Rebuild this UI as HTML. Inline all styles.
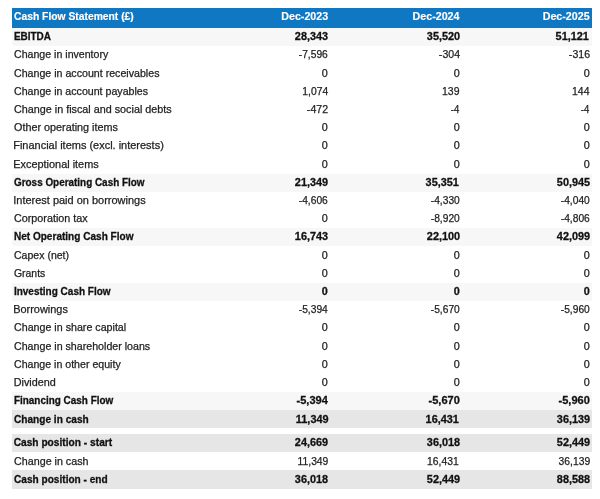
<!DOCTYPE html>
<html><head><meta charset="utf-8"><title>Cash Flow Statement</title>
<style>
html,body{margin:0;padding:0;background:#fff;}
body{width:600px;height:499px;position:relative;overflow:hidden;font-family:"Liberation Sans",sans-serif;font-size:10.5px;color:#111111;}
.r{position:absolute;left:12px;width:580px;height:18.2px;line-height:18.2px;white-space:nowrap;}
.h{position:absolute;left:12px;width:580px;top:8px;height:20px;line-height:20px;background:#1077c3;color:#fff;font-weight:bold;white-space:nowrap;}
.L{background:#f7f7f7}.D{background:#e6e6e6}
.b{font-weight:bold}
.l,.n{-webkit-text-stroke:0.25px #222;color:#222}
.b .l,.b .n{-webkit-text-stroke:0.28px #111111;color:#111111}
.h .l,.h .n{color:#fff}
.h .l,.h .n{-webkit-text-stroke:0.15px #fff}
.l{position:absolute;left:1.5px;top:-2px;display:inline-block;transform-origin:0 50%;}
.n{position:absolute;top:-2px;display:inline-block;transform-origin:100% 50%;}
.h .l,.h .n{top:-2px}
.c1{right:263.95px}.c2{right:132.3px}.c3{right:2.2px}
</style></head><body><div id="w" style="position:absolute;left:0;top:0;width:600px;height:499px;will-change:transform">
<div class="h"><span class="l" id="h0" style="transform:translate(0.00px,0.00px) scaleX(0.9823)">Cash Flow Statement (£)</span><span class="n c1" id="h1" style="transform:translate(0.00px,0.00px) scaleX(1.0161)">Dec-2023</span><span class="n c2" id="h2" style="transform:translate(-0.60px,0.00px) scaleX(1.0194)">Dec-2024</span><span class="n c3" id="h3" style="transform:translate(-0.52px,0.00px) scaleX(1.0174)">Dec-2025</span></div>
<div class="r b L" style="top:28px;height:18px"><span class="l" id="l0" style="transform:translate(-0.08px,1.00px) scaleX(0.9489)">EBITDA</span><span class="n c1" id="n0_0" style="transform:translate(0.00px,1.00px) scaleX(1.0366)">28,343</span><span class="n c2" id="n0_1" style="transform:translate(0.00px,1.00px) scaleX(1.0366)">35,520</span><span class="n c3" id="n0_2" style="transform:translate(-1.20px,1.00px) scaleX(1.0366)">51,121</span></div>
<div class="r" style="top:46px;height:18px"><span class="l" id="l1" style="transform:translate(0.00px,1.00px) scaleX(1.0095)">Change in inventory</span><span class="n c1" id="n1_0" style="transform:translate(0.00px,1.00px) scaleX(0.9743)">-7,596</span><span class="n c2" id="n1_1" style="transform:translate(0.00px,1.00px) scaleX(1.0063)">-304</span><span class="n c3" id="n1_2" style="transform:translate(0.00px,1.00px) scaleX(1.0063)">-316</span></div>
<div class="r" style="top:64px;height:19px"><span class="l" id="l2" style="transform:translate(0.00px,2.00px) scaleX(1.0131)">Change in account receivables</span><span class="n c1" id="n2_0" style="transform:translate(0.00px,2.00px) scaleX(1.0300)">0</span><span class="n c2" id="n2_1" style="transform:translate(0.00px,2.00px) scaleX(1.0300)">0</span><span class="n c3" id="n2_2" style="transform:translate(0.00px,2.00px) scaleX(1.0300)">0</span></div>
<div class="r" style="top:83px;height:18px"><span class="l" id="l3" style="transform:translate(0.00px,1.00px) scaleX(1.0114)">Change in account payables</span><span class="n c1" id="n3_0" style="transform:translate(0.00px,1.00px) scaleX(0.9862)">1,074</span><span class="n c2" id="n3_1" style="transform:translate(0.00px,1.00px) scaleX(0.9973)">139</span><span class="n c3" id="n3_2" style="transform:translate(0.00px,1.00px) scaleX(0.9973)">144</span></div>
<div class="r" style="top:101px;height:18px"><span class="l" id="l4" style="transform:translate(0.00px,1.00px) scaleX(1.0271)">Change in fiscal and social debts</span><span class="n c1" id="n4_0" style="transform:translate(0.00px,1.00px) scaleX(1.0063)">-472</span><span class="n c2" id="n4_1" style="transform:translate(0.00px,1.00px) scaleX(0.9076)">-4</span><span class="n c3" id="n4_2" style="transform:translate(0.00px,1.00px) scaleX(0.9076)">-4</span></div>
<div class="r" style="top:119px;height:18px"><span class="l" id="l5" style="transform:translate(0.00px,1.00px) scaleX(1.0291)">Other operating items</span><span class="n c1" id="n5_0" style="transform:translate(0.00px,1.00px) scaleX(1.0300)">0</span><span class="n c2" id="n5_1" style="transform:translate(0.00px,1.00px) scaleX(1.0300)">0</span><span class="n c3" id="n5_2" style="transform:translate(0.00px,1.00px) scaleX(1.0300)">0</span></div>
<div class="r" style="top:137px;height:18px"><span class="l" id="l6" style="transform:translate(-0.78px,1.00px) scaleX(1.0447)">Financial items (excl. interests)</span><span class="n c1" id="n6_0" style="transform:translate(0.00px,1.00px) scaleX(1.0300)">0</span><span class="n c2" id="n6_1" style="transform:translate(0.00px,1.00px) scaleX(1.0300)">0</span><span class="n c3" id="n6_2" style="transform:translate(0.00px,1.00px) scaleX(1.0300)">0</span></div>
<div class="r" style="top:155px;height:19px"><span class="l" id="l7" style="transform:translate(-0.77px,2.00px) scaleX(1.0389)">Exceptional items</span><span class="n c1" id="n7_0" style="transform:translate(0.00px,2.00px) scaleX(1.0300)">0</span><span class="n c2" id="n7_1" style="transform:translate(0.00px,2.00px) scaleX(1.0300)">0</span><span class="n c3" id="n7_2" style="transform:translate(0.00px,2.00px) scaleX(1.0300)">0</span></div>
<div class="r b L" style="top:174px;height:18px"><span class="l" id="l8" style="transform:translate(0.00px,1.00px) scaleX(0.9439)">Gross Operating Cash Flow</span><span class="n c1" id="n8_0" style="transform:translate(0.00px,1.00px) scaleX(1.0366)">21,349</span><span class="n c2" id="n8_1" style="transform:translate(-1.20px,1.00px) scaleX(1.0366)">35,351</span><span class="n c3" id="n8_2" style="transform:translate(0.00px,1.00px) scaleX(1.0366)">50,945</span></div>
<div class="r" style="top:192px;height:18px"><span class="l" id="l9" style="transform:translate(-0.76px,1.00px) scaleX(1.0452)">Interest paid on borrowings</span><span class="n c1" id="n9_0" style="transform:translate(0.00px,1.00px) scaleX(0.9743)">-4,606</span><span class="n c2" id="n9_1" style="transform:translate(0.00px,1.00px) scaleX(0.9743)">-4,330</span><span class="n c3" id="n9_2" style="transform:translate(0.00px,1.00px) scaleX(0.9743)">-4,040</span></div>
<div class="r" style="top:210px;height:18px"><span class="l" id="l10" style="transform:translate(0.00px,1.00px) scaleX(1.0268)">Corporation tax</span><span class="n c1" id="n10_0" style="transform:translate(0.00px,1.00px) scaleX(1.0300)">0</span><span class="n c2" id="n10_1" style="transform:translate(0.00px,1.00px) scaleX(0.9743)">-8,920</span><span class="n c3" id="n10_2" style="transform:translate(0.00px,1.00px) scaleX(0.9743)">-4,806</span></div>
<div class="r b L" style="top:228px;height:18px"><span class="l" id="l11" style="transform:translate(-0.08px,1.00px) scaleX(0.9575)">Net Operating Cash Flow</span><span class="n c1" id="n11_0" style="transform:translate(0.00px,1.00px) scaleX(1.0366)">16,743</span><span class="n c2" id="n11_1" style="transform:translate(0.00px,1.00px) scaleX(1.0366)">22,100</span><span class="n c3" id="n11_2" style="transform:translate(0.00px,1.00px) scaleX(1.0366)">42,099</span></div>
<div class="r" style="top:246px;height:19px"><span class="l" id="l12" style="transform:translate(0.00px,2.00px) scaleX(1.0034)">Capex (net)</span><span class="n c1" id="n12_0" style="transform:translate(0.00px,2.00px) scaleX(1.0300)">0</span><span class="n c2" id="n12_1" style="transform:translate(0.00px,2.00px) scaleX(1.0300)">0</span><span class="n c3" id="n12_2" style="transform:translate(0.00px,2.00px) scaleX(1.0300)">0</span></div>
<div class="r" style="top:265px;height:18px"><span class="l" id="l13" style="transform:translate(0.00px,1.00px) scaleX(0.9924)">Grants</span><span class="n c1" id="n13_0" style="transform:translate(0.00px,1.00px) scaleX(1.0300)">0</span><span class="n c2" id="n13_1" style="transform:translate(0.00px,1.00px) scaleX(1.0300)">0</span><span class="n c3" id="n13_2" style="transform:translate(0.00px,1.00px) scaleX(1.0300)">0</span></div>
<div class="r b L" style="top:283px;height:18px"><span class="l" id="l14" style="transform:translate(-0.08px,1.00px) scaleX(0.9525)">Investing Cash Flow</span><span class="n c1" id="n14_0" style="transform:translate(0.00px,1.00px) scaleX(1.0300)">0</span><span class="n c2" id="n14_1" style="transform:translate(0.00px,1.00px) scaleX(1.0300)">0</span><span class="n c3" id="n14_2" style="transform:translate(0.00px,1.00px) scaleX(1.0300)">0</span></div>
<div class="r" style="top:301px;height:18px"><span class="l" id="l15" style="transform:translate(-0.76px,1.00px) scaleX(1.0402)">Borrowings</span><span class="n c1" id="n15_0" style="transform:translate(0.00px,1.00px) scaleX(0.9743)">-5,394</span><span class="n c2" id="n15_1" style="transform:translate(0.00px,1.00px) scaleX(0.9743)">-5,670</span><span class="n c3" id="n15_2" style="transform:translate(0.00px,1.00px) scaleX(0.9743)">-5,960</span></div>
<div class="r" style="top:319px;height:18px"><span class="l" id="l16" style="transform:translate(0.00px,1.00px) scaleX(1.0166)">Change in share capital</span><span class="n c1" id="n16_0" style="transform:translate(0.00px,1.00px) scaleX(1.0300)">0</span><span class="n c2" id="n16_1" style="transform:translate(0.00px,1.00px) scaleX(1.0300)">0</span><span class="n c3" id="n16_2" style="transform:translate(0.00px,1.00px) scaleX(1.0300)">0</span></div>
<div class="r" style="top:337px;height:19px"><span class="l" id="l17" style="transform:translate(0.00px,2.00px) scaleX(1.0144)">Change in shareholder loans</span><span class="n c1" id="n17_0" style="transform:translate(0.00px,2.00px) scaleX(1.0300)">0</span><span class="n c2" id="n17_1" style="transform:translate(0.00px,2.00px) scaleX(1.0300)">0</span><span class="n c3" id="n17_2" style="transform:translate(0.00px,2.00px) scaleX(1.0300)">0</span></div>
<div class="r" style="top:356px;height:18px"><span class="l" id="l18" style="transform:translate(0.00px,1.00px) scaleX(1.0097)">Change in other equity</span><span class="n c1" id="n18_0" style="transform:translate(0.00px,1.00px) scaleX(1.0300)">0</span><span class="n c2" id="n18_1" style="transform:translate(0.00px,1.00px) scaleX(1.0300)">0</span><span class="n c3" id="n18_2" style="transform:translate(0.00px,1.00px) scaleX(1.0300)">0</span></div>
<div class="r" style="top:374px;height:18px"><span class="l" id="l19" style="transform:translate(-0.27px,1.00px) scaleX(1.0307)">Dividend</span><span class="n c1" id="n19_0" style="transform:translate(0.00px,1.00px) scaleX(1.0300)">0</span><span class="n c2" id="n19_1" style="transform:translate(0.00px,1.00px) scaleX(1.0300)">0</span><span class="n c3" id="n19_2" style="transform:translate(0.00px,1.00px) scaleX(1.0300)">0</span></div>
<div class="r b L" style="top:392px;height:18px"><span class="l" id="l20" style="transform:translate(-0.08px,1.00px) scaleX(0.9465)">Financing Cash Flow</span><span class="n c1" id="n20_0" style="transform:translate(0.00px,1.00px) scaleX(1.0498)">-5,394</span><span class="n c2" id="n20_1" style="transform:translate(0.00px,1.00px) scaleX(1.0498)">-5,670</span><span class="n c3" id="n20_2" style="transform:translate(0.00px,1.00px) scaleX(1.0498)">-5,960</span></div>
<div class="r b D" style="top:410px;height:18px"><span class="l" id="l21" style="transform:translate(0.00px,2.00px) scaleX(0.9623)">Change in cash</span><span class="n c1" id="n21_0" style="transform:translate(0.00px,2.00px) scaleX(1.0366)">11,349</span><span class="n c2" id="n21_1" style="transform:translate(-1.20px,2.00px) scaleX(1.0366)">16,431</span><span class="n c3" id="n21_2" style="transform:translate(0.00px,2.00px) scaleX(1.0366)">36,139</span></div>
<div class="r b D" style="top:434px;height:18px"><span class="l" id="l23" style="transform:translate(-0.36px,1.00px) scaleX(0.9706)">Cash position - start</span><span class="n c1" id="n23_0" style="transform:translate(0.00px,1.00px) scaleX(1.0366)">24,669</span><span class="n c2" id="n23_1" style="transform:translate(0.00px,1.00px) scaleX(1.0366)">36,018</span><span class="n c3" id="n23_2" style="transform:translate(0.00px,1.00px) scaleX(1.0366)">52,449</span></div>
<div class="r" style="top:452px;height:18px"><span class="l" id="l24" style="transform:translate(0.10px,2.00px) scaleX(1.0191)">Change in cash</span><span class="n c1" id="n24_0" style="transform:translate(0.00px,2.00px) scaleX(0.9822)">11,349</span><span class="n c2" id="n24_1" style="transform:translate(-1.50px,2.00px) scaleX(0.9822)">16,431</span><span class="n c3" id="n24_2" style="transform:translate(0.00px,2.00px) scaleX(0.9822)">36,139</span></div>
<div class="r b D" style="top:470px;height:19px"><span class="l" id="l25" style="transform:translate(0.05px,2.00px) scaleX(0.9613)">Cash position - end</span><span class="n c1" id="n25_0" style="transform:translate(0.00px,2.00px) scaleX(1.0366)">36,018</span><span class="n c2" id="n25_1" style="transform:translate(0.00px,2.00px) scaleX(1.0366)">52,449</span><span class="n c3" id="n25_2" style="transform:translate(0.00px,2.00px) scaleX(1.0366)">88,588</span></div>
</div></body></html>
